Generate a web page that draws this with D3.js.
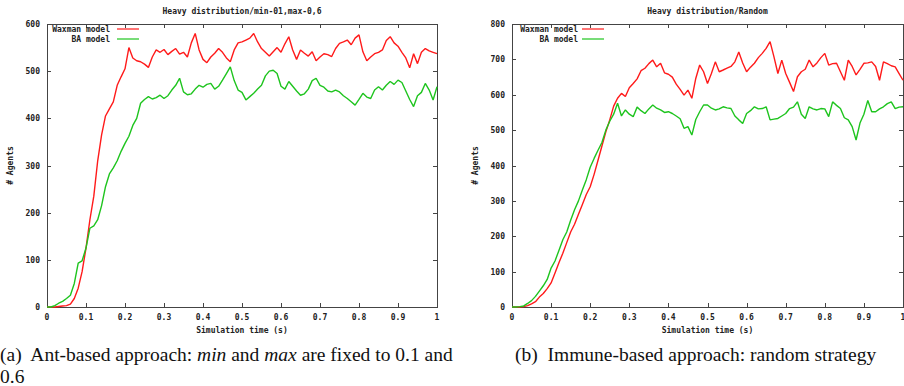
<!DOCTYPE html>
<html>
<head>
<meta charset="utf-8">
<script src="https://cdn.jsdelivr.net/npm/d3@7"></script>
<style>
  body { margin: 0; background: #fff; }
  svg { display: block; }
  .tick-label, .title, .legend, .axis-label { font-family: "DejaVu Sans Mono", monospace; font-size: 8px; font-weight: bold; fill: #222; }
  .caption { font-family: "Liberation Serif", "DejaVu Serif", serif; font-size: 19.5px; fill: #111; }
</style>
</head>
<body>
<div id="chart"></div>
<script>
// sample times, every 0.01 s
const times = d3.range(0, 101).map(i => i / 100);

// (a) ant-based approach
const antWaxman = [0,0,0,1,2,3,6,18,40,75,125,185,235,310,365,405,420,435,470,488,
  505,550,528,522,520,515,508,530,545,540,546,535,542,548,536,540,530,560,580,545,
  525,518,530,538,548,540,528,520,545,560,562,566,570,580,562,548,540,532,541,550,
  540,558,573,545,525,545,538,532,541,522,530,537,535,531,548,559,562,566,556,570,
  577,541,522,530,537,540,545,565,573,560,553,540,528,507,537,516,540,548,543,540,537];
const antBA = [0,0,3,8,12,18,25,50,93,98,125,167,172,185,215,255,282,295,310,330,
  347,362,385,400,432,440,446,441,444,449,442,448,460,470,485,456,450,452,462,470,
  466,472,474,462,468,481,495,509,480,460,455,439,446,453,462,470,490,500,502,495,
  468,462,478,468,458,449,452,462,480,485,470,466,458,456,460,456,448,442,435,428,
  440,453,445,442,460,467,460,470,478,472,481,476,458,440,425,448,455,474,460,439,467];

// (b) immune-based approach
const immWaxman = [0,0,0,1,4,9,15,28,38,52,68,96,125,152,182,212,234,262,290,318,
  340,375,415,455,495,529,568,590,604,595,620,632,645,668,675,688,698,679,689,662,
  658,650,630,615,599,613,590,646,684,665,632,660,693,665,670,675,680,693,721,690,
  665,678,689,705,717,731,750,707,660,698,660,635,609,651,665,672,698,679,690,705,
  717,684,688,689,665,641,698,680,656,672,689,690,693,680,641,693,688,682,679,660,641];
const immBA = [0,0,1,3,10,18,30,45,60,78,110,130,160,190,212,245,275,300,331,360,
  395,420,443,465,500,525,545,576,540,557,545,538,565,555,547,560,571,562,557,550,
  552,547,540,532,505,510,486,530,552,571,571,562,557,560,566,563,561,540,529,519,
  547,555,566,560,561,566,529,531,533,540,547,561,565,580,545,533,566,560,557,561,
  560,538,580,570,561,535,529,510,472,520,545,584,552,552,560,566,575,580,561,565,566];

const xTicks = [0,0.1,0.2,0.3,0.4,0.5,0.6,0.7,0.8,0.9,1];
const seriesNames = ["Waxman model", "BA model"];
const seriesColors = ["#ff1a1a", "#1ec41e"];

const panels = [
  { title: "Heavy distribution/min-01,max-0,6", yMax: 600, yTicks: d3.range(0, 601, 100),
    series: [antWaxman, antBA], left: 47, width: 390, legendEnd: 63 },
  { title: "Heavy distribution/Random", yMax: 800, yTicks: d3.range(0, 801, 100),
    series: [immWaxman, immBA], left: 512, width: 391, legendEnd: 66 }
];

const W = 904, H = 386, plotTop = 24, plotBottom = 307;

const svg = d3.select("#chart").append("svg")
  .attr("width", W).attr("height", H);

panels.forEach(p => {
  const x = d3.scaleLinear().domain([0, 1]).range([p.left, p.left + p.width]);
  const y = d3.scaleLinear().domain([0, p.yMax]).range([plotBottom, plotTop]);
  const g = svg.append("g");

  // frame
  g.append("rect")
    .attr("x", x(0) + 0.5).attr("y", plotTop + 0.5)
    .attr("width", p.width).attr("height", plotBottom - plotTop)
    .attr("fill", "none").attr("stroke", "#444").attr("stroke-width", 1);

  // ticks inward, mirrored
  const tl = 4;
  p.yTicks.forEach(v => {
    const yy = Math.round(y(v)) + 0.5;
    g.append("line").attr("x1", x(0)).attr("x2", x(0) + tl).attr("y1", yy).attr("y2", yy).attr("stroke", "#444");
    g.append("line").attr("x1", x(1)).attr("x2", x(1) - tl).attr("y1", yy).attr("y2", yy).attr("stroke", "#444");
    g.append("text").attr("class", "tick-label")
      .attr("x", x(0) - 7).attr("y", y(v) + 3)
      .attr("text-anchor", "end").text(v);
  });
  xTicks.forEach(t => {
    const xx = Math.round(x(t)) + 0.5;
    g.append("line").attr("x1", xx).attr("x2", xx).attr("y1", plotBottom).attr("y2", plotBottom - tl).attr("stroke", "#444");
    g.append("line").attr("x1", xx).attr("x2", xx).attr("y1", plotTop).attr("y2", plotTop + tl).attr("stroke", "#444");
    g.append("text").attr("class", "tick-label")
      .attr("x", x(t)).attr("y", plotBottom + 13)
      .attr("text-anchor", "middle").text(t);
  });

  // title and axis labels
  const cx = p.left + p.width / 2;
  g.append("text").attr("class", "title").attr("x", cx).attr("y", 14)
    .attr("text-anchor", "middle").text(p.title);
  g.append("text").attr("class", "axis-label").attr("x", cx).attr("y", plotBottom + 26)
    .attr("text-anchor", "middle").text("Simulation time (s)");
  g.append("text").attr("class", "axis-label")
    .attr("transform", `translate(${p.left - 34},${(plotTop + plotBottom) / 2}) rotate(-90)`)
    .attr("text-anchor", "middle").text("# Agents");

  // data lines
  const line = d3.line()
    .x((d, i) => x(times[i]))
    .y(d => y(d));
  p.series.forEach((s, k) => {
    g.append("path").datum(s)
      .attr("fill", "none").attr("stroke", seriesColors[k])
      .attr("stroke-width", 1.4).attr("stroke-linejoin", "bevel").attr("d", line);
  });

  // legend
  seriesNames.forEach((name, k) => {
    const ly = plotTop + 5 + k * 10;
    g.append("text").attr("class", "legend")
      .attr("x", p.left + p.legendEnd).attr("y", ly + 3)
      .attr("text-anchor", "end").text(name);
    g.append("line")
      .attr("x1", p.left + 70).attr("x2", p.left + 92)
      .attr("y1", ly).attr("y2", ly)
      .attr("stroke", seriesColors[k]).attr("stroke-width", 1.2);
  });
});

// captions
const capA = svg.append("text").attr("class", "caption").attr("x", 0).attr("y", 361);
capA.append("tspan").text("(a)\u00a0 Ant-based approach: ");
capA.append("tspan").attr("font-style", "italic").text("min");
capA.append("tspan").text(" and ");
capA.append("tspan").attr("font-style", "italic").text("max");
capA.append("tspan").text(" are fixed to 0.1 and");
svg.append("text").attr("class", "caption").attr("x", 0).attr("y", 383).text("0.6");
svg.append("text").attr("class", "caption").attr("x", 515).attr("y", 361)
  .text("(b)\u00a0 Immune-based approach: random strategy");
</script>
</body>
</html>
